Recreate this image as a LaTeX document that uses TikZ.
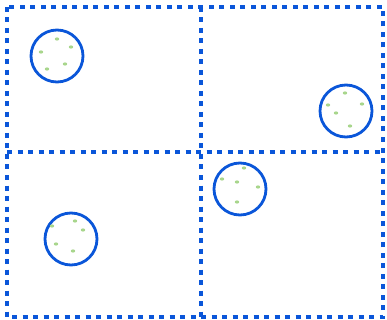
\documentclass[tikz,border=0pt]{standalone}
\definecolor{gridblue}{HTML}{0A56D9}
\definecolor{dotgreen}{HTML}{A8D68C}
\tikzset{
  gridline/.style={draw=gridblue, line width=3.6pt, dash pattern=on 5pt off 5.5pt},
  dish/.style={circle, draw=gridblue, line width=2.8pt, minimum size=52pt, inner sep=0pt},
  spot/.style={fill=dotgreen, draw=none}
}
\begin{document}
\begin{tikzpicture}[x=1pt, y=-1pt]
\useasboundingbox (0,0) rectangle (387,320);
\fill[white] (0,0) rectangle (387,320);
\coordinate (tl) at (7,7);
\coordinate (br) at (383,317);
\draw[gridline] (tl) rectangle (br);
\draw[gridline] (201,7) -- (201,317);
\draw[gridline] (7,152) -- (383,152);
\node[dish] (c1) at (57,56) {};
\node[dish] (c2) at (346,111) {};
\node[dish] (c3) at (71,239) {};
\node[dish] (c4) at (240,189) {};
\foreach \x/\y in {57/39,71/47,41/52,65/64,47/69,
                   345/93,328/105,362/104,336/113,350/126,
                   75/221,52/226,83/230,56/244,73/251,
                   244/168,222/179,237/182,258/187,237/202}
  \fill[spot] (\x,\y) ellipse (2.2pt and 1.6pt);
\end{tikzpicture}
\end{document}
